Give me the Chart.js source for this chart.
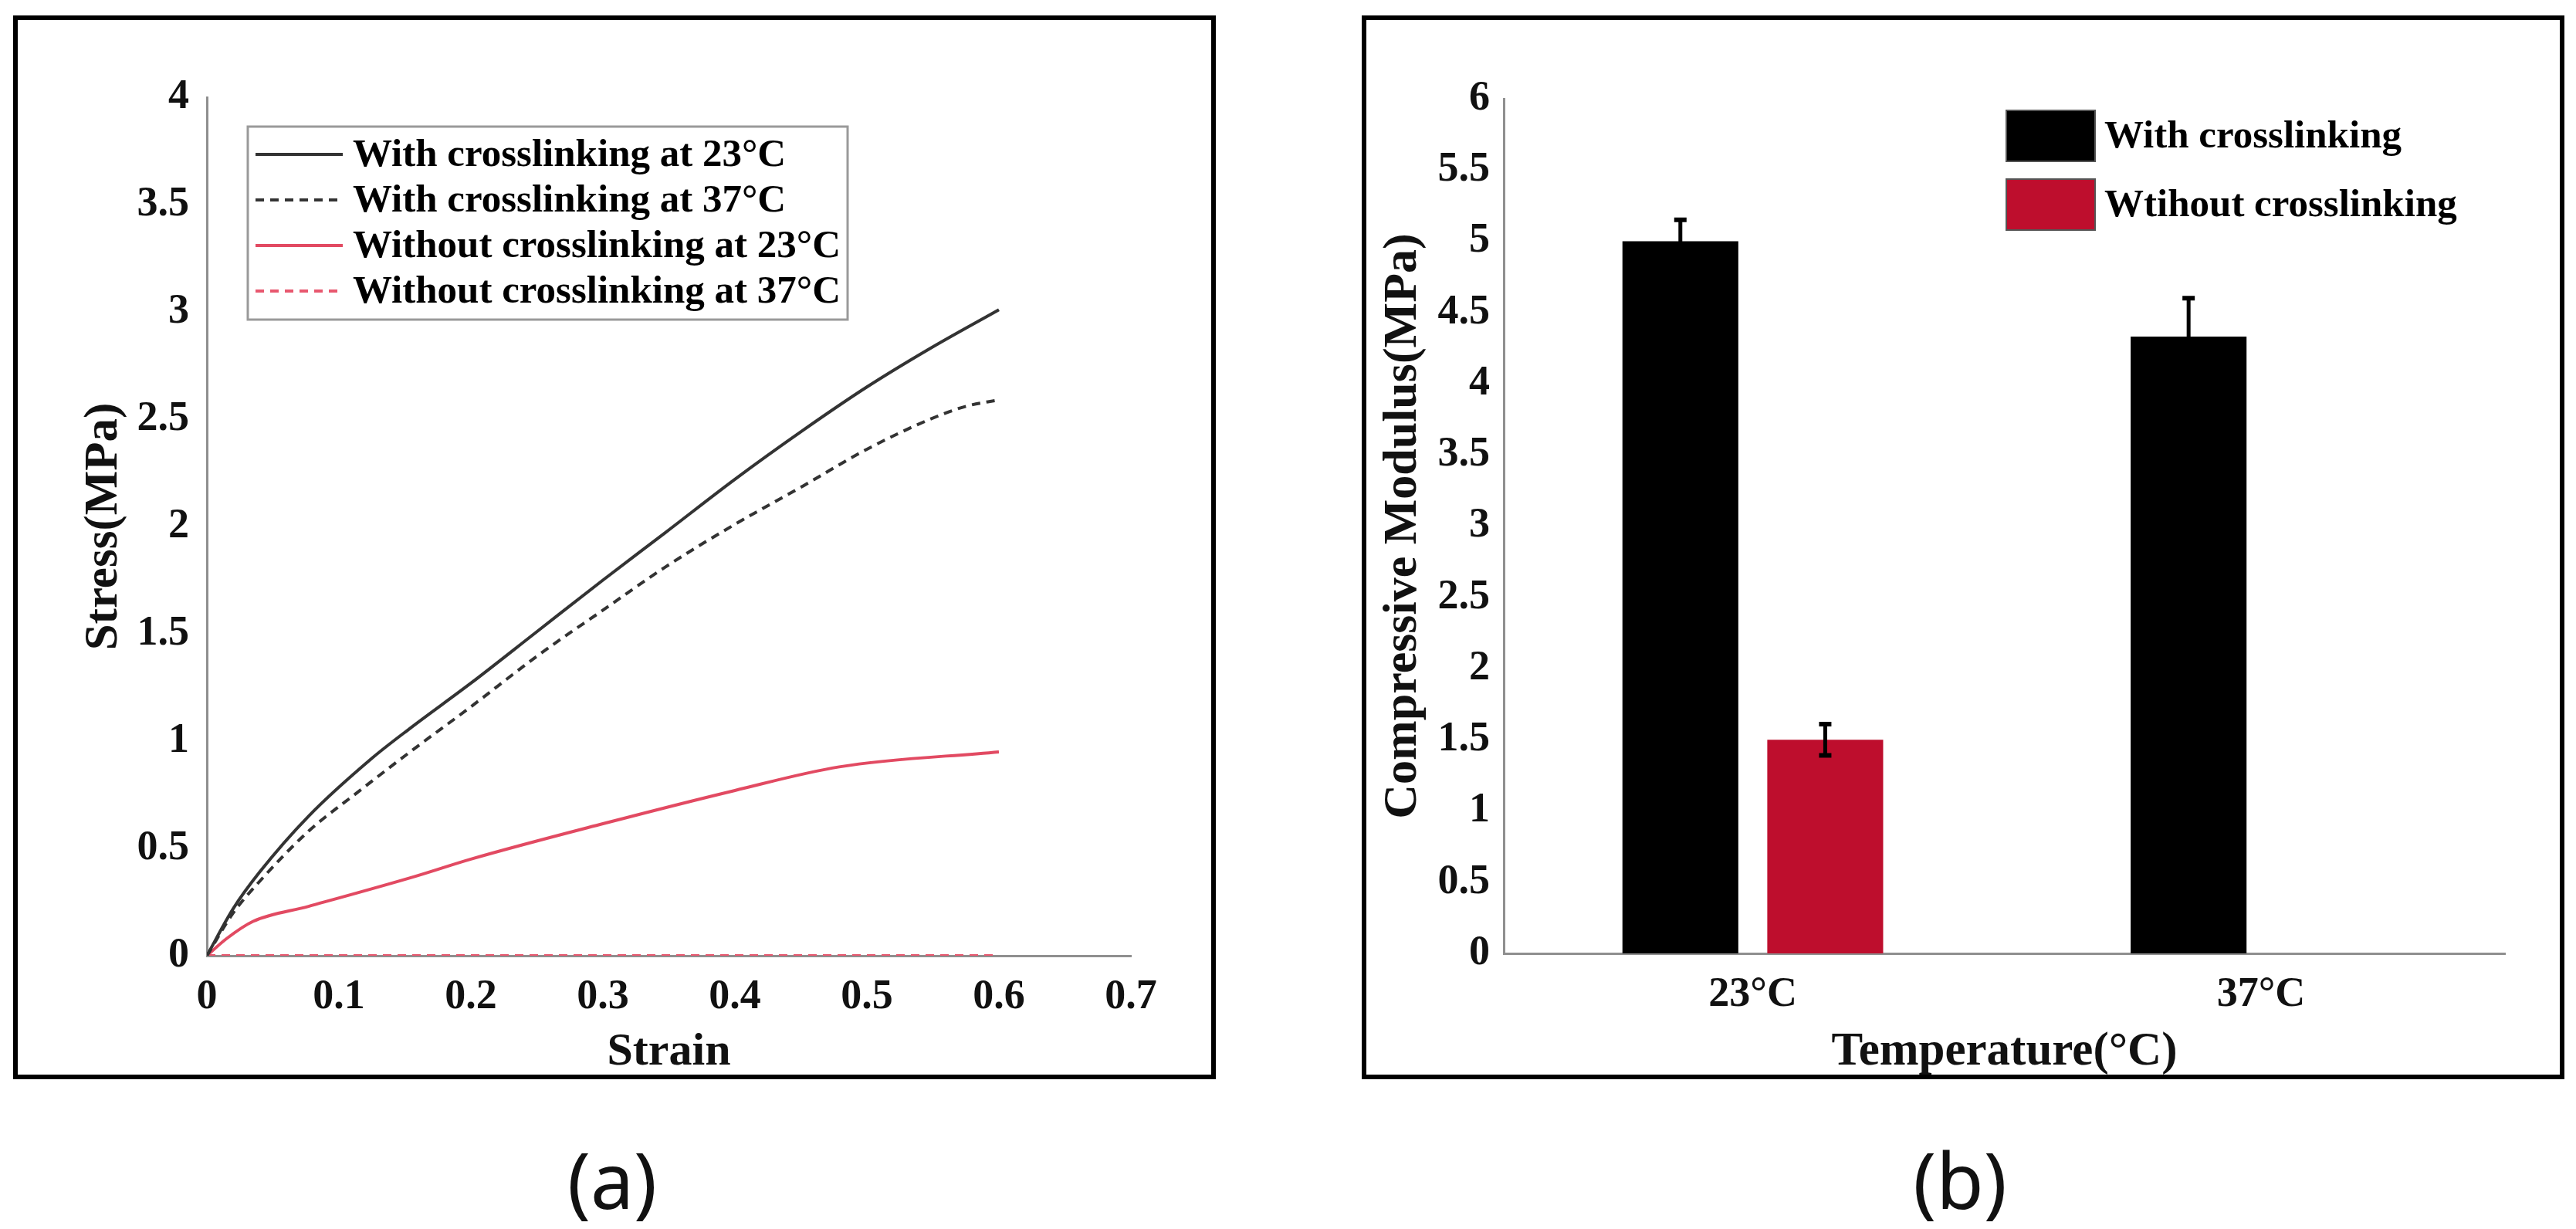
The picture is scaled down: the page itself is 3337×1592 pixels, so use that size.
<!DOCTYPE html>
<html lang="en">
<head>
<meta charset="UTF-8">
<title>Stress-strain curves and compressive modulus</title>
<script src="https://cdn.jsdelivr.net/npm/chart.js"></script>
<style>
  html, body { margin: 0; padding: 0; background: #fff; }
  #page { position: relative; width: 3337px; height: 1592px; overflow: hidden; background: #fff; }
  .frame { position: absolute; border: 6px solid #000; box-sizing: border-box; }
  canvas { position: absolute; }
  .cap { position: absolute; font-family: "Noto Sans", sans-serif; font-size: 100px; line-height: 1; transform: translate(-50%, -50%); color: #111; }
</style>
</head>
<body>
<div id="page">
  <div class="frame" style="left:17px;top:20px;width:1558px;height:1378px"></div>
  <div class="frame" style="left:1764px;top:20px;width:1558px;height:1378px"></div>
  <canvas id="strainChart" width="1700" height="1450" style="left:0;top:0"></canvas>
  <canvas id="modulusChart" width="1637" height="1450" style="left:1700px;top:0"></canvas>
  <div class="cap" style="left:793px;top:1527px">(a)</div>
  <div class="cap" style="left:2539px;top:1527px">(b)</div>
</div>

<script>
// (a) stress-strain curves
const strainWith23 = [0, 0.02, 0.04, 0.077, 0.125, 0.154, 0.2, 0.25, 0.3, 0.347, 0.4, 0.452, 0.5, 0.548, 0.6];
const stressWith23 = [0, 0.22, 0.39, 0.65, 0.92, 1.06, 1.27, 1.51, 1.75, 1.97, 2.22, 2.45, 2.65, 2.83, 3.01];
const strainWith37 = [0, 0.02, 0.039, 0.077, 0.116, 0.154, 0.2, 0.251, 0.3, 0.347, 0.4, 0.452, 0.5, 0.548, 0.575, 0.6];
const stressWith37 = [0, 0.2, 0.34, 0.58, 0.77, 0.95, 1.16, 1.40, 1.61, 1.81, 2.01, 2.19, 2.36, 2.50, 2.56, 2.59];
const strainWithout23 = [0, 0.015, 0.035, 0.077, 0.158, 0.2, 0.3, 0.4, 0.479, 0.6];
const stressWithout23 = [0, 0.08, 0.16, 0.23, 0.37, 0.45, 0.615, 0.77, 0.88, 0.95];
const strainWithout37 = [0, 0.6];
const stressWithout37 = [0, 0];

// (b) compressive modulus
const temps = ['23°C', '37°C'];
const modWith = [5.0, 4.33];
const errWith = [0.15, 0.27];
const modWithout = [1.5, null];
const errWithout = [0.11, null];

const serif = "'Liberation Serif', 'Times New Roman', serif";
const ink = '#111';
const axisGray = '#8f8f8f';

function pairs(xs, ys) {
  return xs.map((x, i) => ({ x: x, y: ys[i] }));
}
function fmt(v) {
  return String(Math.round(v * 100) / 100);
}
function font(size) {
  return { family: serif, size: size, weight: 'bold' };
}

// legend box drawn inside the plot, like the MATLAB one
const strainLegend = {
  id: 'strainLegend',
  afterDraw(chart) {
    const ctx = chart.ctx;
    ctx.save();
    ctx.fillStyle = '#fff';
    ctx.fillRect(321, 164, 777, 250);
    ctx.strokeStyle = '#9a9a9a';
    ctx.lineWidth = 3;
    ctx.strokeRect(321, 164, 777, 250);
    ctx.font = 'bold 51px ' + serif;
    ctx.textBaseline = 'middle';
    chart.data.datasets.forEach((ds, i) => {
      const y = 200 + i * 59;
      ctx.strokeStyle = ds.borderColor;
      ctx.lineWidth = ds.borderWidth;
      ctx.setLineDash(ds.borderDash || []);
      ctx.beginPath();
      ctx.moveTo(331, y);
      ctx.lineTo(444, y);
      ctx.stroke();
      ctx.setLineDash([]);
      ctx.fillStyle = '#000';
      ctx.fillText(ds.label, 457, y + 2);
    });
    ctx.restore();
  }
};

new Chart(document.getElementById('strainChart'), {
  type: 'line',
  data: {
    datasets: [
      { label: 'With crosslinking at 23°C', data: pairs(strainWith23, stressWith23), borderColor: '#333', borderWidth: 4 },
      { label: 'With crosslinking at 37°C', data: pairs(strainWith37, stressWith37), borderColor: '#333', borderWidth: 4, borderDash: [11, 8] },
      { label: 'Without crosslinking at 23°C', data: pairs(strainWithout23, stressWithout23), borderColor: '#e24a62', borderWidth: 4 },
      { label: 'Without crosslinking at 37°C', data: pairs(strainWithout37, stressWithout37), borderColor: '#e8586f', borderWidth: 4, borderDash: [11, 8] }
    ]
  },
  options: {
    responsive: false,
    devicePixelRatio: 1,
    animation: false,
    elements: {
      point: { radius: 0 },
      line: { tension: 0.3, cubicInterpolationMode: 'monotone', fill: false }
    },
    layout: { padding: { left: 0, top: 126, right: 235, bottom: 0 } },
    plugins: { legend: { display: false }, tooltip: { enabled: false } },
    scales: {
      x: {
        type: 'linear', min: 0, max: 0.7,
        border: { color: axisGray, width: 3 },
        grid: { display: false, drawTicks: false },
        ticks: { stepSize: 0.1, padding: 22, color: ink, font: font(54), callback: v => fmt(v) },
        title: { display: true, text: 'Strain', color: ink, font: font(60), padding: { top: 0, bottom: 51 } },
        afterFit: s => { s.height = 1450 - 1238; }
      },
      y: {
        type: 'linear', min: 0, max: 4,
        border: { color: axisGray, width: 3 },
        grid: { display: false, drawTicks: false },
        ticks: { stepSize: 0.5, padding: 23, color: ink, font: font(54), callback: v => fmt(v) },
        title: { display: true, text: 'Stress(MPa)', color: ink, font: font(61), padding: { top: 99, bottom: 0 } },
        afterFit: s => { s.width = 268; }
      }
    }
  },
  plugins: [strainLegend]
});

// error bars on top of the bars
const errorBars = {
  id: 'errorBars',
  afterDatasetsDraw(chart) {
    const ctx = chart.ctx;
    const yScale = chart.scales.y;
    ctx.save();
    ctx.strokeStyle = '#000';
    chart.data.datasets.forEach((ds, d) => {
      const meta = chart.getDatasetMeta(d);
      meta.data.forEach((bar, i) => {
        const v = ds.data[i].y;
        const e = ds.errors[i];
        if (v == null || e == null) return;
        const top = yScale.getPixelForValue(v + e);
        const bot = yScale.getPixelForValue(v - e);
        ctx.lineWidth = 5;
        ctx.beginPath();
        ctx.moveTo(bar.x, top);
        ctx.lineTo(bar.x, bot);
        ctx.stroke();
        ctx.lineWidth = 6;
        ctx.beginPath();
        ctx.moveTo(bar.x - 8, top); ctx.lineTo(bar.x + 8, top);
        ctx.moveTo(bar.x - 8, bot); ctx.lineTo(bar.x + 8, bot);
        ctx.stroke();
      });
    });
    ctx.restore();
  }
};

const modulusLegend = {
  id: 'modulusLegend',
  afterDraw(chart) {
    const ctx = chart.ctx;
    ctx.save();
    ctx.font = 'bold 51px ' + serif;
    ctx.textBaseline = 'middle';
    chart.data.datasets.forEach((ds, i) => {
      const top = 143 + i * 89;
      ctx.fillStyle = ds.backgroundColor;
      ctx.fillRect(899, top, 115, 66);
      ctx.strokeStyle = '#555';
      ctx.lineWidth = 2;
      ctx.strokeRect(899, top, 115, 66);
      ctx.fillStyle = '#000';
      ctx.fillText(ds.label, 1026, top + 35);
    });
    ctx.restore();
  }
};

new Chart(document.getElementById('modulusChart'), {
  type: 'bar',
  data: {
    datasets: [
      { label: 'With crosslinking', data: pairs([1, 2], modWith), errors: errWith, backgroundColor: '#000',
        categoryPercentage: 0.57, barPercentage: 0.8 },
      { label: 'Wtihout crosslinking', data: pairs([1, 2], modWithout), errors: errWithout, backgroundColor: '#be0e2d',
        categoryPercentage: 0.57, barPercentage: 0.8 }
    ]
  },
  options: {
    responsive: false,
    devicePixelRatio: 1,
    animation: false,
    layout: { padding: { left: 0, top: 128, right: 92, bottom: 0 } },
    plugins: { legend: { display: false }, tooltip: { enabled: false } },
    scales: {
      x: {
        type: 'linear', min: 0.51, max: 2.48, offset: false,
        border: { color: axisGray, width: 3 },
        grid: { display: false, drawTicks: false, offset: false },
        afterBuildTicks: s => { s.ticks = temps.map((t, i) => ({ value: i + 1 })); },
        ticks: { padding: 22, color: ink, font: font(54), callback: v => temps[v - 1] },
        title: { display: true, text: 'Temperature(°C)', color: ink, font: font(61), padding: { top: 0, bottom: 50 } },
        afterFit: s => { s.height = 1450 - 1235; }
      },
      y: {
        type: 'linear', min: 0, max: 6,
        border: { color: axisGray, width: 3 },
        grid: { display: false, drawTicks: false },
        ticks: { stepSize: 0.5, padding: 18, color: ink, font: font(54), callback: v => fmt(v) },
        title: { display: true, text: 'Compressive Modulus(MPa)', color: ink, font: font(62), padding: { top: 81, bottom: 0 } },
        afterFit: s => { s.width = 248; }
      }
    }
  },
  plugins: [errorBars, modulusLegend]
});
</script>
</body>
</html>
